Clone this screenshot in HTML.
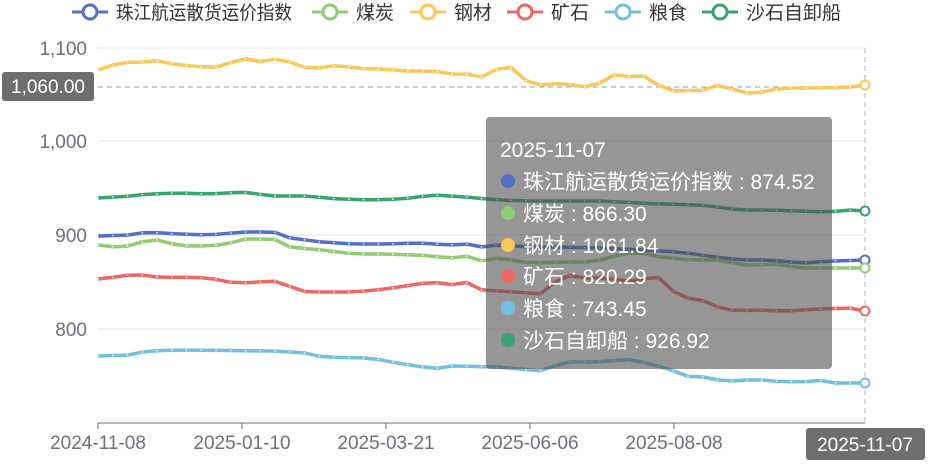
<!DOCTYPE html>
<html><head><meta charset="utf-8"><style>
body{margin:0;background:#fff;}
svg{display:block;font-family:"Liberation Sans","Noto Sans CJK SC",sans-serif;}
</style></head><body>
<svg id="c" width="930" height="465" xmlns="http://www.w3.org/2000/svg">
<g stroke="#e0e6f1" stroke-width="1">
<line x1="98" y1="48" x2="865" y2="48"/><line x1="98" y1="141" x2="865" y2="141"/>
<line x1="98" y1="235" x2="865" y2="235"/><line x1="98" y1="329" x2="865" y2="329"/>
</g>
<g fill="#6e7079" font-size="19" text-anchor="end">
<text x="87" y="55">1,100</text><text x="87" y="148">1,000</text><text x="87" y="242">900</text><text x="87" y="336">800</text>
</g>
<line x1="98" y1="423" x2="865" y2="423" stroke="#6e7079"/>
<g stroke="#6e7079"><line x1="98" y1="423" x2="98" y2="429"/><line x1="242" y1="423" x2="242" y2="429"/><line x1="386" y1="423" x2="386" y2="429"/><line x1="530" y1="423" x2="530" y2="429"/><line x1="674" y1="423" x2="674" y2="429"/></g>
<g fill="#6e7079" font-size="19" text-anchor="middle">
<text x="98" y="449">2024-11-08</text><text x="242" y="449">2025-01-10</text><text x="386" y="449">2025-03-21</text><text x="530" y="449">2025-06-06</text><text x="674" y="449">2025-08-08</text>
</g>
<line x1="98" y1="87" x2="865" y2="87" stroke="#999" stroke-dasharray="5,4"/>
<line x1="865" y1="48" x2="865" y2="423" stroke="#b0b6c4" stroke-dasharray="5,4"/>
<g id="series"></g>
<rect x="486" y="117" width="346" height="252" rx="4" fill="rgba(80,80,80,0.6)"/>
<g fill="#fff" font-size="21">
<text x="500" y="157">2025-11-07</text>
<circle cx="508" cy="181" r="7" fill="#5470c6"/><text x="523" y="189">珠江航运散货运价指数 : 874.52</text>
<circle cx="508" cy="213" r="7" fill="#91cc75"/><text x="523" y="221">煤炭 : 866.30</text>
<circle cx="508" cy="245" r="7" fill="#fac858"/><text x="523" y="253">钢材 : 1061.84</text>
<circle cx="508" cy="276" r="7" fill="#ee6666"/><text x="523" y="284">矿石 : 820.29</text>
<circle cx="508" cy="308" r="7" fill="#73c0de"/><text x="523" y="316">粮食 : 743.45</text>
<circle cx="508" cy="340" r="7" fill="#3ba272"/><text x="523" y="348">沙石自卸船 : 926.92</text>
</g>
<rect x="2" y="72" width="92" height="29" rx="3" fill="#6e6e6e"/>
<text x="48" y="93" fill="#fff" font-size="19" text-anchor="middle">1,060.00</text>
<rect x="806" y="428" width="119" height="32" rx="3" fill="#6e6e6e"/>
<text x="865" y="451" fill="#fff" font-size="19" text-anchor="middle">2025-11-07</text>
<g id="legend" font-size="19" fill="#333"></g>
</svg>
<script>
const S=[
["#fac858",[[98,70],[113,65],[130,62],[147,62],[162,60],[177,66],[195,65],[210,69],[227,64],[242,58],[258,62],[274,59],[290,62],[306,68],[322,68],[338,65],[354,68],[370,69],[386,69],[402,71],[434,71],[450,74],[466,74],[482,77],[497,69],[513,67],[530,85],[546,85],[562,83],[578,86],[594,88],[610,74],[626,77],[642,75],[658,85],[674,91],[706,90],[722,84],[738,92],[754,94],[770,90],[786,88],[818,88],[850,87],[865,85]]],
["#3ba272",[[98,198],[130,196],[147,194],[178,193],[210,194],[242,192],[274,196],[306,196],[338,199],[370,200],[402,199],[434,195],[466,197],[498,200],[530,201],[600,201],[660,204],[700,205],[740,210],[770,210],[800,211],[830,212],[850,210],[865,211]]],
["#5470c6",[[98,236],[130,235],[147,232],[178,234],[210,235],[242,232],[274,232],[290,238],[322,242],[354,244],[386,244],[418,243],[450,245],[466,244],[482,247],[498,245],[530,247],[560,247],[600,248],[640,250],[680,252],[700,255],[740,260],[770,260],[800,263],[835,261],[865,260]]],
["#91cc75",[[98,245],[115,247],[130,246],[147,240],[162,240],[178,246],[210,246],[227,244],[242,239],[274,239],[290,247],[322,250],[354,254],[386,254],[418,255],[450,258],[466,256],[482,261],[498,258],[530,263],[562,262],[594,262],[600,260],[626,253],[642,253],[660,257],[690,260],[720,260],[738,264],[754,266],[770,263],[800,268],[835,268],[865,268]]],
["#ee6666",[[98,279],[115,277],[130,275],[147,275],[162,278],[178,277],[210,278],[227,282],[242,283],[274,281],[306,292],[354,292],[386,289],[418,284],[434,282],[450,285],[466,282],[482,290],[498,291],[530,293],[546,294],[562,273],[578,278],[610,278],[626,282],[642,279],[658,277],[674,292],[690,299],[706,301],[722,309],[738,311],[754,310],[786,311],[818,309],[850,308],[865,311]]],
["#73c0de",[[98,356],[130,355],[147,351],[178,350],[274,351],[306,353],[322,357],[370,358],[386,361],[402,364],[418,366],[434,369],[450,366],[498,367],[530,370],[546,371],[562,362],[594,362],[610,361],[626,359],[642,362],[658,366],[674,371],[690,377],[706,377],[722,381],[738,381],[754,379],[770,381],[802,382],[818,380],[834,383],[865,383]]]
];
function interp(k,x){for(let i=1;i<k.length;i++){if(x<=k[i][0]){const a=k[i-1],b=k[i];return a[1]+(b[1]-a[1])*(x-a[0])/(b[0]-a[0]);}}return k[k.length-1][1];}
let h="";
for(const [c,k] of S){let pts=[];for(let i=0;i<53;i++){const x=98+i*767/52;pts.push([x,interp(k,x)]);}
h+=`<polyline points="${pts.map(p=>p[0].toFixed(1)+','+p[1].toFixed(1)).join(' ')}" fill="none" stroke="${c}" stroke-width="3.5" stroke-linejoin="round"/>`;
for(let i=0;i<52;i++)h+=`<circle cx="${pts[i][0].toFixed(1)}" cy="${pts[i][1].toFixed(1)}" r="0.9" fill="#fff" fill-opacity="0.8"/>`;
const l=pts[52];h+=`<circle cx="${l[0]}" cy="${l[1]}" r="4.5" fill="#fff" stroke="${c}" stroke-width="2"/>`;}
document.getElementById("series").innerHTML=h;
const L=[["#5470c6",72,"珠江航运散货运价指数",176],["#91cc75",312,"煤炭",0],["#fac858",410,"钢材",0],["#ee6666",507,"矿石",0],["#73c0de",605,"粮食",0],["#3ba272",702,"沙石自卸船",0]];
let g="";for(const [c,x,t,w] of L){g+=`<line x1="${x}" y1="12" x2="${x+36}" y2="12" stroke="${c}" stroke-width="3"/><circle cx="${x+18}" cy="12" r="7" fill="#fff" stroke="${c}" stroke-width="3"/><text x="${x+44}" y="19"${w?` textLength="${w}" lengthAdjust="spacingAndGlyphs"`:''}>${t}</text>`;}
document.getElementById("legend").innerHTML=g;
</script>
</body></html>
